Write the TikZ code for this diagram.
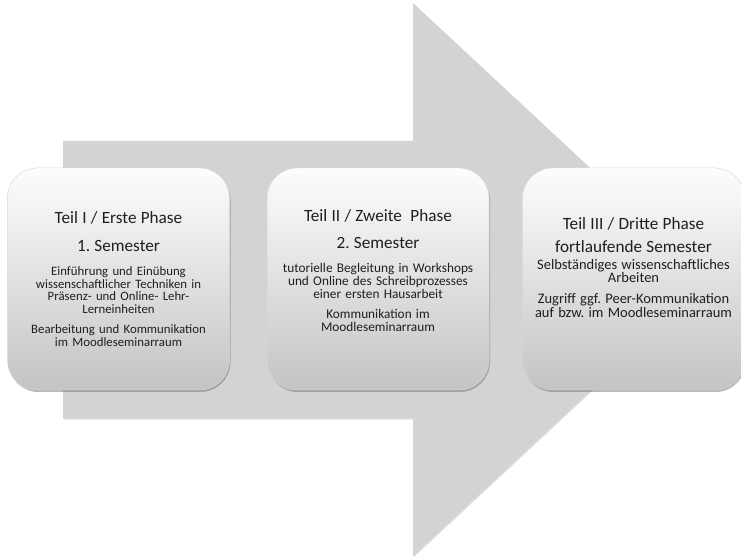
\documentclass[tikz,border=0pt]{standalone}
\usepackage{fontspec}
\setmainfont{Carlito}
\usetikzlibrary{positioning,shadows}

\definecolor{arrowgray}{HTML}{D3D3D3}
\definecolor{boxtop}{HTML}{FDFDFD}
\definecolor{boxbottom}{HTML}{C4C4C4}
\definecolor{boxedge}{HTML}{D6D6D6}

\begin{document}
\frenchspacing
\begin{tikzpicture}[x=1pt,y=1pt]
    \tikzstyle{phasebox}=[rectangle, rounded corners=30pt, draw=boxedge, line width=0.5pt,
        top color=boxtop, bottom color=boxbottom,
        minimum width=222pt, minimum height=222pt, text width=206pt, inner xsep=8pt,
        align=center, text=black!88, font=\fontsize{12.8}{12.7}\selectfont,
        drop shadow={shadow xshift=1pt, shadow yshift=-2pt, opacity=0.5, fill=black!55}]
    \useasboundingbox (0,0) rectangle (741,557);

    % big arrow
    \fill[arrowgray, drop shadow={shadow xshift=0.5pt, shadow yshift=-1.5pt, opacity=0.25}]
        (63,139) -- (63,416) -- (413,416) -- (413,554) -- (710,277.5)
        -- (413,1) -- (413,139) -- cycle;

    % phases
    \node[phasebox] at (118.5,278) (p1) {%
        {\fontsize{17.2}{28}\selectfont Teil I / Erste Phase\\ 1. Semester\par}
        \vspace{11pt}
        Einführung und Einübung\\ wissenschaftlicher Techniken in\\
        Präsenz- und Online- Lehr-\\ Lerneinheiten\par
        \vspace{7pt}
        Bearbeitung und Kommunikation\\ im Moodleseminarraum};
    \node[phasebox, right=37pt of p1] (p2) {%
        {\fontsize{17.2}{27}\selectfont Teil II / Zweite~ Phase\\ 2. Semester\par}
        \vspace{12pt}
        {\fontsize{13.3}{12.7}\selectfont
        tutorielle Begleitung in Workshops\\ und Online des Schreibprozesses\\
        einer ersten Hausarbeit\par
        \vspace{8pt}
        Kommunikation im\\ Moodleseminarraum\par}
        \vspace{17pt}\hrule height 0pt};
    \node[phasebox, right=33pt of p2] (p3) {%
        {\fontsize{17.2}{23}\selectfont Teil III / Dritte Phase\\ fortlaufende Semester\par}
        \vspace{5pt}
        {\fontsize{14.5}{12}\selectfont Selbständiges wissenschaftliches\\ Arbeiten\par
        \vspace{9pt}
        Zugriff ggf. Peer-Kommunikation\\ auf bzw. im Moodleseminarraum\par}
        \vspace{23pt}\hrule height 0pt};

\end{tikzpicture}
\end{document}
